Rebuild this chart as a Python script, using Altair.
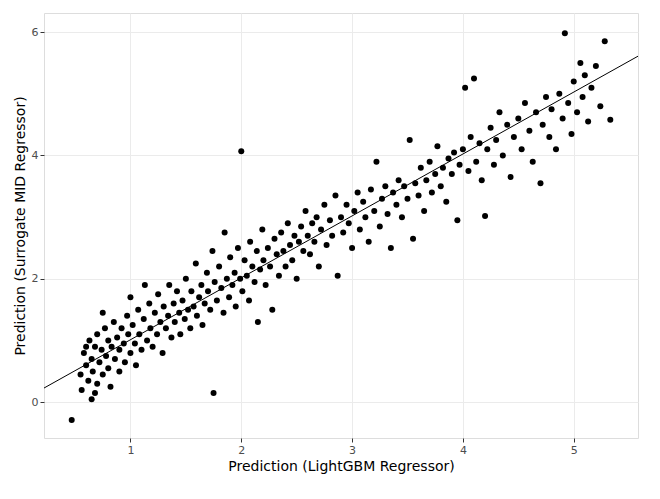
import altair as alt
import pandas as pd

pred_lgbm = [
    0.55, 0.56, 0.58, 0.6, 0.62, 0.63, 0.65, 0.66, 0.68, 0.7, 0.7, 0.72, 0.74, 0.75, 0.77, 0.78, 0.8, 0.8, 0.82, 0.83,
    0.85, 0.86, 0.88, 0.9, 0.9, 0.92, 0.94, 0.95, 0.97, 0.98, 1.0, 1.0, 1.02, 1.04, 1.05, 1.07, 1.08, 1.1, 1.12, 1.13,
    1.15, 1.17, 1.18, 1.2, 1.22, 1.24, 1.25, 1.27, 1.29, 1.3, 1.32, 1.34, 1.35, 1.37, 1.39, 1.4, 1.42, 1.44, 1.45, 1.47,
    1.49, 1.5, 1.52, 1.54, 1.55, 1.57, 1.59, 1.6, 1.62, 1.64, 1.65, 1.67, 1.69, 1.7, 1.72, 1.74, 1.75, 1.76, 1.78, 1.8,
    1.82, 1.84, 1.85, 1.87, 1.89, 1.9, 1.92, 1.94, 1.95, 1.97, 1.99, 2.0, 2.01, 2.03, 2.05, 2.07, 2.08, 2.1, 2.12, 2.14,
    2.15, 2.17, 2.19, 2.2, 2.22, 2.24, 2.26, 2.28, 2.3, 2.32, 2.34, 2.36, 2.38, 2.4, 2.42, 2.44, 2.46, 2.48, 2.5, 2.52,
    2.54, 2.56, 2.58, 2.6, 2.62, 2.64, 2.66, 2.68, 2.7, 2.72, 2.75, 2.77, 2.8, 2.82, 2.85, 2.87, 2.9, 2.92, 2.95, 2.97,
    3.0, 3.02, 3.05, 3.07, 3.1, 3.12, 3.15, 3.17, 3.2, 3.22, 3.25, 3.27, 3.3, 3.32, 3.35, 3.37, 3.4, 3.42, 3.45, 3.47,
    3.5, 3.52, 3.55, 3.57, 3.6, 3.62, 3.65, 3.67, 3.7, 3.72, 3.75, 3.77, 3.8, 3.82, 3.85, 3.87, 3.9, 3.92, 3.95, 3.97,
    4.0, 4.02, 4.05, 4.07, 4.1, 4.12, 4.15, 4.17, 4.2, 4.22, 4.25, 4.28, 4.3, 4.33, 4.36, 4.4, 4.43, 4.46, 4.5, 4.53,
    4.56, 4.6, 4.63, 4.66, 4.7, 4.72, 4.75, 4.78, 4.8, 4.84, 4.87, 4.9, 4.92, 4.95, 4.98, 5.0, 5.03, 5.06, 5.08, 5.1,
    5.13, 5.16, 5.2, 5.24, 5.28, 5.33, 0.47, 0.65, 0.6, 0.68, 0.75,
]
pred_mid = [
    0.45, 0.2, 0.8, 0.6, 0.35, 1.0, 0.7, 0.5, 0.9, 0.3, 1.1, 0.65, 0.85, 0.45, 1.2, 0.75, 0.55, 1.0, 0.25, 0.9,
    1.3, 0.7, 1.05, 0.5, 0.85, 1.2, 0.95, 0.65, 1.4, 1.1, 0.8, 1.7, 1.25, 0.95, 0.6, 1.5, 1.1, 0.85, 1.35, 1.9,
    1.0, 1.6, 1.2, 0.9, 1.45, 1.1, 1.75, 1.3, 0.8, 1.55, 1.2, 1.4, 1.9, 1.05, 1.6, 1.3, 1.8, 1.45, 1.1, 1.65,
    1.35, 2.0, 1.5, 1.2, 1.8, 1.55, 2.25, 1.4, 1.7, 1.9, 1.25, 1.6, 2.1, 1.8, 1.5, 2.45, 0.15, 1.95, 1.65, 2.2,
    1.85, 1.45, 2.75, 2.0, 1.7, 2.35, 1.9, 2.1, 1.55, 2.5, 2.0, 4.07, 1.8, 2.3, 2.05, 1.65, 2.6, 2.2, 1.95, 2.45,
    1.3, 2.15, 2.8, 2.3, 1.9, 2.5, 2.2, 1.5, 2.65, 2.4, 2.05, 2.75, 2.45, 2.2, 2.9, 2.55, 2.3, 2.7, 2.0, 2.6,
    2.85, 2.45, 3.1, 2.7, 2.4, 2.9, 2.6, 3.0, 2.2, 2.8, 3.2, 2.55, 2.95, 2.7, 3.35, 2.05, 3.0, 2.75, 3.2, 2.9,
    2.5, 3.1, 3.4, 2.8, 3.25, 3.0, 2.6, 3.45, 3.1, 3.9, 2.85, 3.3, 3.5, 3.05, 2.5, 3.4, 3.2, 3.6, 3.0, 3.5,
    3.3, 4.25, 2.65, 3.55, 3.35, 3.8, 3.1, 3.6, 3.9, 3.4, 3.7, 4.15, 3.5, 3.8, 3.25, 3.95, 3.7, 4.05, 2.95, 3.85,
    4.1, 5.1, 3.75, 4.3, 5.25, 3.9, 4.2, 3.6, 3.02, 4.1, 4.45, 3.85, 4.25, 4.7, 4.0, 4.5, 3.65, 4.3, 4.6, 4.1,
    4.85, 4.4, 3.9, 4.7, 3.55, 4.5, 4.95, 4.3, 4.75, 4.1, 5.0, 4.6, 5.98, 4.85, 4.35, 5.2, 4.7, 5.5, 4.95, 5.3,
    4.55, 5.1, 5.45, 4.8, 5.85, 4.58, -0.29, 0.05, 0.9, 0.15, 1.45,
]

x_lim = [0.22, 5.58]
y_lim = [-0.58, 6.31]
fit_x = [0.22, 5.58]
fit_y = [0.23, 5.61]

df = pd.DataFrame({"lgbm": pred_lgbm, "mid": pred_mid})
line_df = pd.DataFrame({"lgbm": fit_x, "mid": fit_y})

xs = alt.Scale(domain=x_lim, nice=False, zero=False)
ys = alt.Scale(domain=y_lim, nice=False, zero=False)
ax = dict(grid=True, gridColor="#ebebeb", domain=False, tickColor="#333333", tickSize=4,
          labelColor="#4d4d4d", labelFontSize=11, titleFontSize=14, titleFontWeight="normal",
          titleColor="black", format="d")

points = alt.Chart(df).mark_circle(size=36, color="black", opacity=1).encode(
    x=alt.X("lgbm:Q", scale=xs, title="Prediction (LightGBM Regressor)",
            axis=alt.Axis(values=[1, 2, 3, 4, 5], **ax)),
    y=alt.Y("mid:Q", scale=ys, title="Prediction (Surrogate MID Regressor)",
            axis=alt.Axis(values=[0, 2, 4, 6], **ax)),
)
line = alt.Chart(line_df).mark_line(color="black", strokeWidth=1, clip=True).encode(
    x=alt.X("lgbm:Q", scale=xs), y=alt.Y("mid:Q", scale=ys)
)

chart = (line + points).properties(width=594, height=425).configure_view(
    stroke="#333333", strokeWidth=1
).configure(font="DejaVu Sans")
chart.save("out.html", embed_options={"renderer": "svg", "actions": False})
